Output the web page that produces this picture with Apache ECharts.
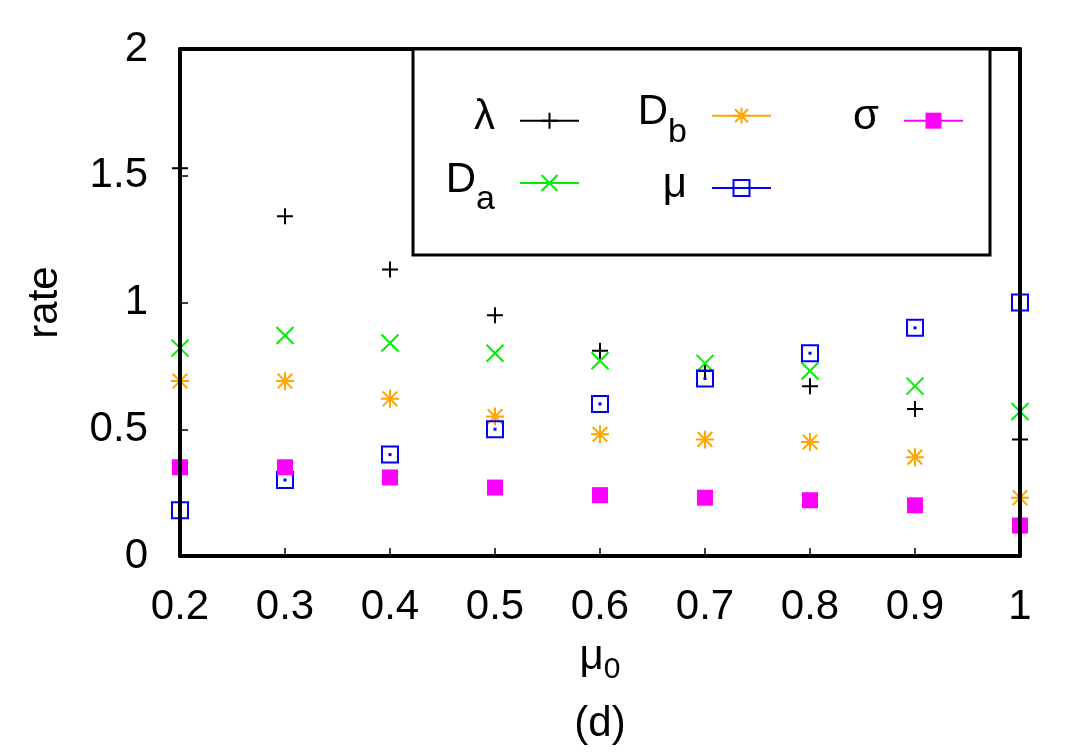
<!DOCTYPE html>
<html>
<head>
<meta charset="utf-8">
<style>
  html, body { margin: 0; padding: 0; background: #fff; }
  #chart { width: 1080px; height: 756px; }
</style>
<script src="https://cdn.jsdelivr.net/npm/echarts@6/dist/echarts.min.js"></script>
</head>
<body>
<div id="chart"></div>
<script>
// x values (mu_0) and tick positions
var muZero = [0.2, 0.3, 0.4, 0.5, 0.6, 0.7, 0.8, 0.9, 1.0];
var xTicks = [0.2, 0.3, 0.4, 0.5, 0.6, 0.7, 0.8, 0.9, 1];
var yTicks = [0, 0.5, 1, 1.5, 2];

// rates
var lambdaVals = [1.53, 1.34, 1.13, 0.95, 0.81, 0.73, 0.67, 0.58, 0.46];
var daVals     = [0.82, 0.87, 0.84, 0.80, 0.77, 0.76, 0.73, 0.67, 0.57];
var dbVals     = [0.69, 0.69, 0.62, 0.55, 0.48, 0.46, 0.45, 0.39, 0.23];
var muVals     = [0.18, 0.30, 0.40, 0.50, 0.60, 0.70, 0.80, 0.90, 1.00];
var sigmaVals  = [0.35, 0.35, 0.31, 0.27, 0.24, 0.23, 0.22, 0.20, 0.12];

(function() {
  var font = 'Liberation Sans';
  var clear = 'rgba(0,0,0,0)';

  var plus = 'path://M0,8L16,8M8,0L8,16';
  var cross = 'path://M0,0L16,16M16,0L0,16';
  var star = 'path://M0,8L16,8M8,0L8,16M1.5,1.5L14.5,14.5M14.5,1.5L1.5,14.5';
  var box = 'path://M0,0L16,0L16,16L0,16Z';

  function pairs(vals) {
    return muZero.map(function(x, i) { return [x, vals[i]]; });
  }

  function pointSeries(name, vals, symbol, size, fill, stroke, bw) {
    return {
      name: name,
      type: 'line',
      data: pairs(vals),
      symbol: symbol,
      symbolSize: size,
      showSymbol: true,
      showAllSymbol: true,
      clip: false,
      lineStyle: { width: 0, color: clear },
      itemStyle: { color: fill, borderColor: stroke, borderWidth: bw },
      z: 3
    };
  }

  var richLegend = {
    m: { fontFamily: font, fontSize: 42, lineHeight: 48, verticalAlign: 'top', color: '#000' },
    s: { fontFamily: font, fontSize: 34, lineHeight: 34, padding: [24, 0, 0, 0], verticalAlign: 'top', color: '#000' }
  };
  var legendText = { 'λ': '{m|λ}', 'Da': '{m|D}{s|a}', 'Db': '{m|D}{s|b}', 'μ': '{m|μ}', 'σ': '{m|σ}' };

  function legendAt(name, right, top, color, fill, bw) {
    return {
      data: [name],
      right: right,
      top: top,
      orient: 'horizontal',
      align: 'right',
      padding: 0,
      selectedMode: false,
      itemWidth: 59,
      itemHeight: 20,
      formatter: function(n) { return legendText[n]; },
      textStyle: { fontFamily: font, fontSize: 42, color: '#000', padding: [0, 20, 0, 0], rich: richLegend },
      lineStyle: { color: color, width: 2, opacity: 1, type: 'solid' },
      itemStyle: { color: fill, borderColor: color, borderWidth: bw, opacity: 1 },
      z: 6
    };
  }

  var chart = echarts.init(document.getElementById('chart'), null, { renderer: 'canvas' });
  chart.setOption({
    animation: false,
    backgroundColor: '#fff',
    textStyle: { fontFamily: font },
    title: {
      text: '(d)',
      left: 600,
      textAlign: 'center',
      top: 703,
      padding: 0,
      textStyle: { fontFamily: font, fontSize: 42, fontWeight: 'normal', color: '#000' }
    },
    grid: { left: 180, right: 60, top: 49, bottom: 200 },
    graphic: [{
      type: 'rect',
      z: 5,
      shape: { x: 413, y: 49, width: 577, height: 206 },
      style: { fill: '#fff', stroke: '#000', lineWidth: 3 }
    }],
    legend: [
      legendAt('λ', 500, 96.7, '#000000', '#000000', 2),
      legendAt('Da', 500, 159, '#00ee00', clear, 2),
      legendAt('Db', 308, 91.7, '#ffa500', clear, 2),
      legendAt('μ', 308, 164, '#0000ff', clear, 2),
      legendAt('σ', 116, 96.7, '#ff00ff', '#ff00ff', 0)
    ],
    xAxis: [{
      type: 'value',
      min: xTicks[0],
      max: xTicks[xTicks.length - 1],
      interval: 0.1,
      z: 4,
      name: '{m|μ}{s|0}',
      nameLocation: 'middle',
      nameGap: 80,
      nameTextStyle: {
        fontFamily: font, fontSize: 42, color: '#000',
        rich: {
          m: { fontFamily: font, fontSize: 42, lineHeight: 48, verticalAlign: 'top', color: '#000' },
          s: { fontFamily: font, fontSize: 30, lineHeight: 30, padding: [19, 0, 0, 0], verticalAlign: 'top', color: '#000' }
        }
      },
      axisLine: { show: true, onZero: false, lineStyle: { color: '#000', width: 4 } },
      axisTick: { show: true, inside: true, length: 8, lineStyle: { color: '#000', width: 1.5 } },
      axisLabel: { fontFamily: font, fontSize: 42, color: '#000', margin: 30 },
      splitLine: { show: false }
    }, {
      type: 'value',
      position: 'top',
      min: xTicks[0],
      max: xTicks[xTicks.length - 1],
      z: 4,
      axisLine: { show: true, onZero: false, lineStyle: { color: '#000', width: 4 } },
      axisTick: { show: false },
      axisLabel: { show: false },
      splitLine: { show: false }
    }],
    yAxis: [{
      type: 'value',
      min: yTicks[0],
      max: yTicks[yTicks.length - 1],
      interval: 0.5,
      z: 4,
      name: 'rate',
      nameLocation: 'middle',
      nameRotate: 90,
      nameGap: 114,
      nameTextStyle: { fontFamily: font, fontSize: 42, color: '#000' },
      axisLine: { show: true, onZero: false, lineStyle: { color: '#000', width: 4 } },
      axisTick: { show: true, inside: true, length: 8, lineStyle: { color: '#000', width: 1.5 } },
      axisLabel: { fontFamily: font, fontSize: 42, color: '#000', margin: 32 },
      splitLine: { show: false }
    }, {
      type: 'value',
      position: 'right',
      min: yTicks[0],
      max: yTicks[yTicks.length - 1],
      z: 4,
      axisLine: { show: true, onZero: false, lineStyle: { color: '#000', width: 4 } },
      axisTick: { show: false },
      axisLabel: { show: false },
      splitLine: { show: false }
    }],
    series: [
      pointSeries('λ', lambdaVals, plus, 16, clear, '#000000', 2),
      pointSeries('Da', daVals, cross, 17, clear, '#00ee00', 2),
      pointSeries('Db', dbVals, star, 18, clear, '#ffa500', 2),
      pointSeries('μ', muVals, box, 16, clear, '#0000ff', 2),
      pointSeries('μ0', muVals, 'rect', 3, '#0000ff', '#0000ff', 0),
      pointSeries('σ', sigmaVals, 'rect', 16, '#ff00ff', '#ff00ff', 0)
    ]
  });
  window.addEventListener('resize', function() { chart.resize(); });
})();
</script>
</body>
</html>
